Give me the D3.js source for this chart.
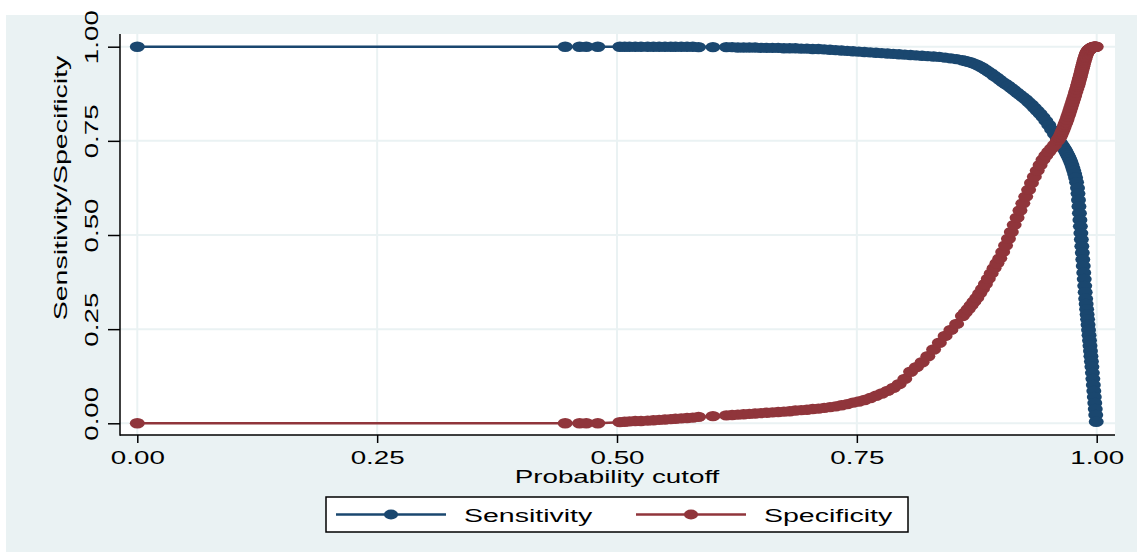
<!DOCTYPE html>
<html>
<head>
<meta charset="utf-8">
<script src="https://cdn.jsdelivr.net/npm/d3@7"></script>
<style>
  body { margin: 0; background: #fff; }
  #chart { width: 1137px; height: 552px; }
  text { font-family: "Liberation Sans", Arial, sans-serif; fill: #000; }
</style>
</head>
<body>
<div id="chart"></div>
<script>

// probability cutoffs and the two rates
const cutoffs = [0.000, 0.446, 0.461, 0.468, 0.480,
  0.503, 0.508, 0.513, 0.519, 0.525, 0.532, 0.538, 0.544, 0.550, 0.556,
  0.561, 0.567, 0.573, 0.579, 0.585, 0.600,
  0.614, 0.620, 0.626, 0.632, 0.638, 0.644, 0.650, 0.656, 0.662, 0.668,
  0.674, 0.680, 0.686, 0.692, 0.698, 0.704, 0.710, 0.716, 0.722, 0.728,
  0.734, 0.740, 0.746, 0.752, 0.758, 0.764, 0.770, 0.776, 0.782, 0.788,
  0.794, 0.800, 0.806, 0.812, 0.818, 0.824, 0.830, 0.836, 0.842, 0.848, 0.854,
  0.860, 0.863, 0.866, 0.869, 0.872, 0.875, 0.878, 0.881, 0.884, 0.887,
  0.890, 0.893, 0.896, 0.899, 0.902, 0.905, 0.908, 0.911, 0.914, 0.917,
  0.920, 0.923, 0.926, 0.929, 0.932, 0.935, 0.938, 0.941, 0.944, 0.947,
  0.950, 0.953, 0.956, 0.959,
  0.960, 0.961, 0.962, 0.963, 0.964, 0.965, 0.966, 0.967, 0.968, 0.969,
  0.970, 0.971, 0.972, 0.973, 0.974, 0.975, 0.976, 0.977, 0.978, 0.979,
  0.9800, 0.9805, 0.9810, 0.9815, 0.9820, 0.9825, 0.9830, 0.9835, 0.9840, 0.9845,
  0.9850, 0.9855, 0.9860, 0.9865, 0.9870, 0.9875, 0.9880, 0.9885, 0.9890, 0.9895,
  0.9900, 0.9905, 0.9910, 0.9915, 0.9920, 0.9925, 0.9930, 0.9935, 0.9940, 0.9945,
  0.9950, 0.9955, 0.9960, 0.9965, 0.9970, 0.9975, 0.9980, 0.9985, 0.9990, 0.9995];

const sensitivity = [1.000, 1.000, 1.000, 1.000, 1.000,
  1.000, 1.000, 1.000, 1.000, 1.000, 1.000, 1.000, 1.000, 1.000, 1.000,
  1.000, 1.000, 1.000, 1.000, 0.999, 0.999,
  0.999, 0.999, 0.998, 0.998, 0.998, 0.998, 0.997, 0.997, 0.997, 0.997,
  0.996, 0.996, 0.996, 0.995, 0.995, 0.994, 0.994, 0.993, 0.992, 0.991,
  0.990, 0.989, 0.988, 0.987, 0.986, 0.985, 0.984, 0.983, 0.982, 0.981,
  0.980, 0.979, 0.978, 0.977, 0.976, 0.975, 0.974, 0.973, 0.971, 0.969, 0.967,
  0.964, 0.962, 0.960, 0.958, 0.955, 0.952, 0.948, 0.944, 0.939, 0.934,
  0.929, 0.923, 0.918, 0.912, 0.906, 0.901, 0.896, 0.890, 0.884, 0.878,
  0.872, 0.866, 0.860, 0.853, 0.846, 0.838, 0.830, 0.822, 0.813, 0.803,
  0.792, 0.780, 0.768, 0.756,
  0.752, 0.748, 0.745, 0.741, 0.738, 0.734, 0.730, 0.726, 0.721, 0.716,
  0.711, 0.706, 0.700, 0.694, 0.687, 0.679, 0.671, 0.662, 0.652, 0.640,
  0.625, 0.610, 0.593, 0.576, 0.558, 0.540, 0.523, 0.505, 0.488, 0.470,
  0.453, 0.435, 0.418, 0.400, 0.383, 0.365, 0.348, 0.331, 0.317, 0.303,
  0.289, 0.276, 0.262, 0.248, 0.234, 0.220, 0.206, 0.192, 0.178, 0.164,
  0.150, 0.134, 0.118, 0.102, 0.086, 0.070, 0.054, 0.038, 0.022, 0.004];

const specificity = [0.000, 0.000, 0.000, 0.000, 0.000,
  0.003, 0.004, 0.005, 0.006, 0.006, 0.007, 0.008, 0.009, 0.010, 0.011,
  0.012, 0.013, 0.014, 0.015, 0.017, 0.019,
  0.021, 0.022, 0.023, 0.024, 0.025, 0.026, 0.027, 0.028, 0.029, 0.030,
  0.031, 0.032, 0.034, 0.035, 0.036, 0.038, 0.039, 0.041, 0.043, 0.045,
  0.048, 0.051, 0.055, 0.058, 0.062, 0.067, 0.073, 0.079, 0.086, 0.094,
  0.104, 0.118, 0.137, 0.149, 0.162, 0.178, 0.196, 0.214, 0.232, 0.248, 0.264,
  0.285, 0.294, 0.303, 0.313, 0.323, 0.333, 0.345, 0.357, 0.370, 0.384,
  0.398, 0.412, 0.425, 0.438, 0.455, 0.472, 0.490, 0.508, 0.527, 0.546,
  0.565, 0.584, 0.602, 0.620, 0.638, 0.655, 0.671, 0.686, 0.700, 0.711,
  0.721, 0.730, 0.739, 0.750,
  0.754, 0.758, 0.762, 0.768, 0.774, 0.780, 0.787, 0.794, 0.800, 0.807,
  0.815, 0.822, 0.830, 0.838, 0.846, 0.854, 0.862, 0.870, 0.879, 0.887,
  0.895, 0.899, 0.904, 0.909, 0.914, 0.918, 0.923, 0.928, 0.933, 0.938,
  0.943, 0.948, 0.953, 0.958, 0.963, 0.967, 0.971, 0.975, 0.979, 0.982,
  0.985, 0.987, 0.989, 0.991, 0.992, 0.993, 0.994, 0.995, 0.996, 0.997,
  0.998, 0.998, 0.999, 0.999, 1.000, 1.000, 1.000, 1.000, 1.000, 1.000];

const tickValues = [0, 0.25, 0.5, 0.75, 1];
const seriesNames = ["Sensitivity", "Specificity"];
const seriesColors = ["#1a476f", "#90353b"];

const width = 1137, height = 552;
const stretch = 1.5;   // the text in the picture is drawn wide
const bg = "#eaf2f3";

const svg = d3.select("#chart")
  .append("svg")
  .attr("width", width)
  .attr("height", height);

// graph region and plot region
svg.append("rect").attr("x", 6).attr("y", 15).attr("width", width - 6).attr("height", height - 15).attr("fill", bg);
const plot = { left: 120, top: 34, right: 1115, bottom: 435 };
svg.append("rect")
  .attr("x", plot.left).attr("y", plot.top)
  .attr("width", plot.right - plot.left).attr("height", plot.bottom - plot.top)
  .attr("fill", "#fff");

const x = d3.scaleLinear().domain([0, 1]).range([137.3, 1096.7]);
const y = d3.scaleLinear().domain([0, 1]).range([423.3, 46.7]);

// grid
svg.append("g").selectAll("line").data(tickValues).join("line")
  .attr("x1", d => x(d)).attr("x2", d => x(d))
  .attr("y1", plot.top).attr("y2", plot.bottom)
  .attr("stroke", bg).attr("stroke-width", 2);
svg.append("g").selectAll("line").data(tickValues).join("line")
  .attr("y1", d => y(d)).attr("y2", d => y(d))
  .attr("x1", plot.left).attr("x2", plot.right)
  .attr("stroke", bg).attr("stroke-width", 2);

// axes
const xAxis = svg.append("g")
  .attr("transform", `translate(0,${plot.bottom})`)
  .call(d3.axisBottom(x).tickValues(tickValues).tickFormat(d3.format(".2f")).tickSize(8).tickSizeOuter(0));
xAxis.select(".domain").remove();
xAxis.selectAll(".tick line").attr("stroke", "#000").attr("stroke-width", 1.5);
xAxis.selectAll(".tick text")
  .attr("y", null).attr("dy", null)
  .attr("font-size", 18.5)
  .attr("transform", `translate(0,29) scale(${stretch},1)`);

const yAxis = svg.append("g")
  .attr("transform", `translate(${plot.left},0)`)
  .call(d3.axisLeft(y).tickValues(tickValues).tickFormat(d3.format(".2f")).tickSize(12).tickSizeOuter(0));
yAxis.select(".domain").remove();
yAxis.selectAll(".tick line").attr("stroke", "#000").attr("stroke-width", 1.5);
yAxis.selectAll(".tick text")
  .attr("x", null).attr("dy", null)
  .attr("text-anchor", "middle")
  .attr("font-size", 18.5)
  .attr("transform", `translate(-22.5,-10) rotate(-90) scale(${stretch},1)`);

svg.append("line").attr("x1", plot.left).attr("x2", plot.left).attr("y1", plot.top).attr("y2", plot.bottom + 0.75)
  .attr("stroke", "#000").attr("stroke-width", 1.5);
svg.append("line").attr("x1", plot.left).attr("x2", plot.right).attr("y1", plot.bottom).attr("y2", plot.bottom)
  .attr("stroke", "#000").attr("stroke-width", 1.5);

// axis titles
svg.append("text")
  .attr("text-anchor", "middle").attr("font-size", 18.5)
  .attr("transform", `translate(${(x(0) + x(1)) / 2},482.5) scale(${stretch},1)`)
  .text("Probability cutoff");
svg.append("text")
  .attr("text-anchor", "middle").attr("font-size", 19)
  .attr("transform", `translate(67,188) rotate(-90) scale(${stretch},1)`)
  .text("Sensitivity/Specificity");

// series: connecting line plus a marker at every cutoff
const series = [sensitivity, specificity];
series.forEach(function(vals, i) {
  const pts = cutoffs.map((c, j) => [c, vals[j]]);
  const g = svg.append("g");
  g.append("path")
    .datum(pts)
    .attr("fill", "none")
    .attr("stroke", seriesColors[i])
    .attr("stroke-width", 2.5)
    .attr("d", d3.line().x(d => x(d[0])).y(d => y(d[1])));
  g.selectAll("ellipse").data(pts).join("ellipse")
    .attr("cx", d => x(d[0])).attr("cy", d => y(d[1]))
    .attr("rx", 7.5).attr("ry", 5.2)
    .attr("fill", seriesColors[i]);
});

// legend
const legend = svg.append("g");
legend.append("rect")
  .attr("x", 326).attr("y", 497).attr("width", 582).attr("height", 35)
  .attr("fill", "#fff").attr("stroke", "#000").attr("stroke-width", 1.5);
const legendX = [336, 636];
seriesNames.forEach(function(name, i) {
  const lx = legendX[i];
  legend.append("line")
    .attr("x1", lx).attr("x2", lx + 110).attr("y1", 514.5).attr("y2", 514.5)
    .attr("stroke", seriesColors[i]).attr("stroke-width", 2.5);
  legend.append("ellipse")
    .attr("cx", lx + 55).attr("cy", 514.5).attr("rx", 7).attr("ry", 5)
    .attr("fill", seriesColors[i]);
  legend.append("text")
    .attr("font-size", 19)
    .attr("transform", `translate(${lx + 128},521.5) scale(${stretch},1)`)
    .text(name);
});

</script>
</body>
</html>
